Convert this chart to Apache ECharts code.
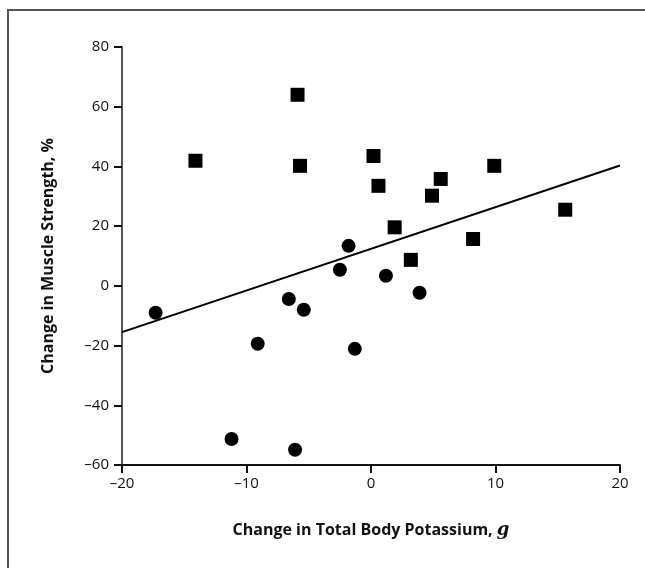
<!DOCTYPE html>
<html>
<head>
<meta charset="utf-8">
<script src="https://cdn.jsdelivr.net/npm/echarts@6/dist/echarts.min.js"></script>
<style>
  html, body { margin: 0; padding: 0; background: #fff; }
  #chart { width: 645px; height: 568px; }
</style>
</head>
<body>
<div id="chart"></div>
<script>
// 数据：方块组
var squareX = [-14.1, -5.9, -5.7, 0.2, 0.6, 1.9, 4.9, 5.6, 9.9, 3.2, 8.2, 15.6];
var squareY = [41.9, 64.0, 40.2, 43.5, 33.5, 19.6, 30.2, 35.8, 40.2, 8.7, 15.7, 25.5];

// 数据：圆点组
var circleX = [-17.3, -9.1, -11.2, -6.6, -5.4, -6.1, -2.5, -1.8, -1.3, 1.2, 3.9];
var circleY = [-9.0, -19.4, -51.3, -4.4, -8.0, -54.9, 5.4, 13.4, -21.1, 3.4, -2.3];

// 回归线端点
var fitX = [-20, 20];
var fitY = [-15.5, 40.3];

var xTicks = [-20, -10, 0, 10, 20];
var yTicks = [-60, -40, -20, 0, 20, 40, 60, 80];

function pairs(xs, ys) {
  return xs.map(function (x, i) { return [x, ys[i]]; });
}

function dash(v) {
  return String(v).replace('-', '\u2013');
}

var font = 'Open Sans';

var chart = echarts.init(document.getElementById('chart'));

var option = {
  animation: false,
  backgroundColor: '#fff',
  graphic: [{
    type: 'rect',
    shape: { x: 8, y: 10, width: 700, height: 620 },
    style: { fill: 'none', stroke: '#555', lineWidth: 2 },
    silent: true
  }],
  grid: {
    left: 122,
    right: 25,
    top: 47,
    bottom: 103,
    containLabel: false
  },
  xAxis: {
    type: 'value',
    min: xTicks[0],
    max: xTicks[xTicks.length - 1],
    interval: 10,
    name: 'Change in Total Body Potassium, {i|g}',
    nameLocation: 'middle',
    nameGap: 56,
    nameTextStyle: {
      fontFamily: font,
      fontWeight: 'bold',
      fontSize: 16,
      color: '#111',
      rich: {
        i: { fontFamily: 'DejaVu Serif', fontStyle: 'italic', fontSize: 18, color: '#111' }
      }
    },
    axisLine: { show: true, onZero: false, lineStyle: { color: '#111', width: 2 } },
    axisTick: { show: true, length: 8, lineStyle: { color: '#111', width: 2 } },
    axisLabel: {
      margin: 11,
      fontFamily: font,
      fontSize: 15,
      color: '#111',
      formatter: function (v) { return dash(v); }
    },
    splitLine: { show: false }
  },
  yAxis: {
    type: 'value',
    min: yTicks[0],
    max: yTicks[yTicks.length - 1],
    interval: 20,
    name: 'Change in Muscle Strength, %',
    nameLocation: 'middle',
    nameGap: 66,
    nameTextStyle: {
      fontFamily: font,
      fontWeight: 'bold',
      fontSize: 16,
      color: '#111'
    },
    axisLine: { show: true, onZero: false, lineStyle: { color: '#555', width: 2 } },
    axisTick: { show: true, length: 8, lineStyle: { color: '#111', width: 2 } },
    axisLabel: {
      margin: 13,
      fontFamily: font,
      fontSize: 15,
      color: '#111',
      formatter: function (v) { return dash(v); }
    },
    splitLine: { show: false }
  },
  series: [{
    name: 'fit',
    type: 'line',
    data: pairs(fitX, fitY),
    symbol: 'none',
    lineStyle: { color: '#000', width: 2 },
    z: 1
  }, {
    name: 'squares',
    type: 'scatter',
    data: pairs(squareX, squareY),
    symbol: 'rect',
    symbolSize: 14,
    itemStyle: { color: '#000', opacity: 1 },
    z: 2
  }, {
    name: 'circles',
    type: 'scatter',
    data: pairs(circleX, circleY),
    symbol: 'circle',
    symbolSize: 14,
    itemStyle: { color: '#000', opacity: 1 },
    z: 2
  }]
};

chart.setOption(option);
</script>
</body>
</html>
